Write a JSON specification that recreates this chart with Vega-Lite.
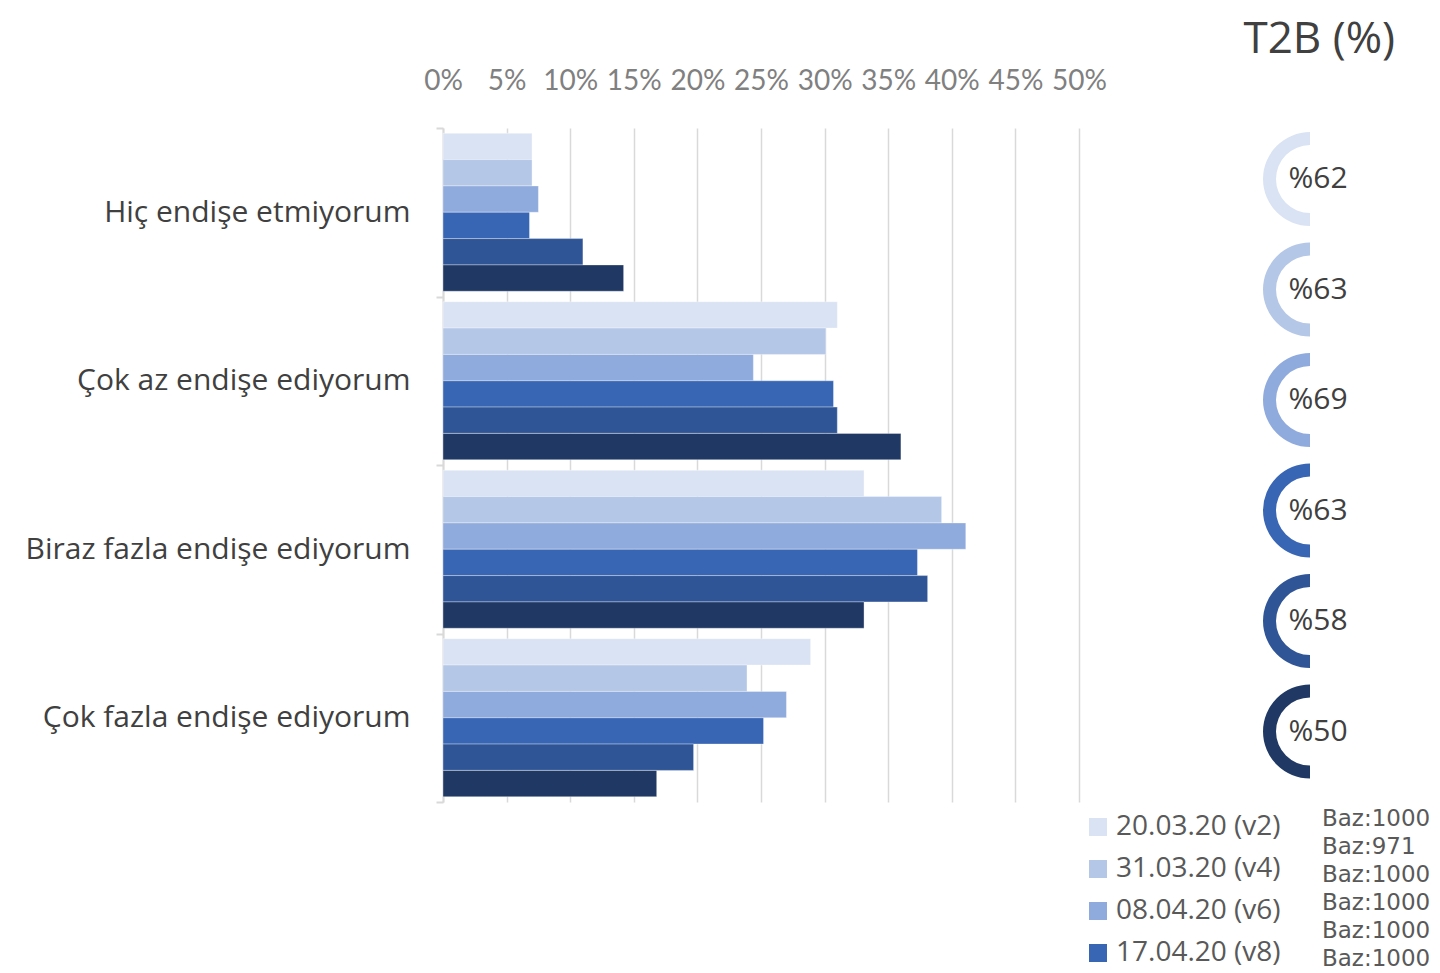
{
  "$schema": "https://vega.github.io/schema/vega-lite/v6.json",
  "width": 636,
  "height": 674,
  "autosize": {"type": "none"},
  "padding": {"left": 443, "top": 128, "right": 361, "bottom": 171},
  "background": "white",
  "config": {"view": {"stroke": null}, "font": "Open Sans"},
  "title": {
    "text": "T2B (%)",
    "anchor": "end",
    "frame": "group",
    "dx": 316,
    "dy": 40,
    "offset": 10,
    "baseline": "alphabetic",
    "fontSize": 44,
    "fontWeight": "normal",
    "color": "#404040",
    "font": "Open Sans"
  },
  "datasets": {
    "shares": [
      {"category": "Hiç endişe etmiyorum", "wave": "20.03.20 (v2)", "share": 0.070},
      {"category": "Hiç endişe etmiyorum", "wave": "31.03.20 (v4)", "share": 0.070},
      {"category": "Hiç endişe etmiyorum", "wave": "08.04.20 (v6)", "share": 0.075},
      {"category": "Hiç endişe etmiyorum", "wave": "17.04.20 (v8)", "share": 0.068},
      {"category": "Hiç endişe etmiyorum", "wave": "v10", "share": 0.110},
      {"category": "Hiç endişe etmiyorum", "wave": "v12", "share": 0.142},
      {"category": "Çok az endişe ediyorum", "wave": "20.03.20 (v2)", "share": 0.310},
      {"category": "Çok az endişe ediyorum", "wave": "31.03.20 (v4)", "share": 0.301},
      {"category": "Çok az endişe ediyorum", "wave": "08.04.20 (v6)", "share": 0.244},
      {"category": "Çok az endişe ediyorum", "wave": "17.04.20 (v8)", "share": 0.307},
      {"category": "Çok az endişe ediyorum", "wave": "v10", "share": 0.310},
      {"category": "Çok az endişe ediyorum", "wave": "v12", "share": 0.360},
      {"category": "Biraz fazla endişe ediyorum", "wave": "20.03.20 (v2)", "share": 0.331},
      {"category": "Biraz fazla endişe ediyorum", "wave": "31.03.20 (v4)", "share": 0.392},
      {"category": "Biraz fazla endişe ediyorum", "wave": "08.04.20 (v6)", "share": 0.411},
      {"category": "Biraz fazla endişe ediyorum", "wave": "17.04.20 (v8)", "share": 0.373},
      {"category": "Biraz fazla endişe ediyorum", "wave": "v10", "share": 0.381},
      {"category": "Biraz fazla endişe ediyorum", "wave": "v12", "share": 0.331},
      {"category": "Çok fazla endişe ediyorum", "wave": "20.03.20 (v2)", "share": 0.289},
      {"category": "Çok fazla endişe ediyorum", "wave": "31.03.20 (v4)", "share": 0.239},
      {"category": "Çok fazla endişe ediyorum", "wave": "08.04.20 (v6)", "share": 0.270},
      {"category": "Çok fazla endişe ediyorum", "wave": "17.04.20 (v8)", "share": 0.252},
      {"category": "Çok fazla endişe ediyorum", "wave": "v10", "share": 0.197},
      {"category": "Çok fazla endişe ediyorum", "wave": "v12", "share": 0.168}
    ],
    "t2b": [
      {"wave": "20.03.20 (v2)", "t2b": 62, "base": 1000},
      {"wave": "31.03.20 (v4)", "t2b": 63, "base": 971},
      {"wave": "08.04.20 (v6)", "t2b": 69, "base": 1000},
      {"wave": "17.04.20 (v8)", "t2b": 63, "base": 1000},
      {"wave": "v10", "t2b": 58, "base": 1000},
      {"wave": "v12", "t2b": 50, "base": 1000}
    ]
  },
  "layer": [
    {
      "data": {"name": "shares"},
      "mark": {"type": "bar", "stroke": "#ffffff", "strokeOpacity": 0.35, "strokeWidth": 1},
      "encoding": {
        "y": {
          "field": "category",
          "type": "nominal",
          "sort": ["Hiç endişe etmiyorum", "Çok az endişe ediyorum", "Biraz fazla endişe ediyorum", "Çok fazla endişe ediyorum"],
          "scale": {"paddingInner": 0, "paddingOuter": 0},
          "title": null,
          "axis": {
            "tickBand": "extent",
            "domainColor": "#d9d9d9",
            "domainWidth": 2,
            "tickColor": "#d9d9d9",
            "tickWidth": 2,
            "tickSize": 7,
            "labelPadding": 26,
            "labelFontSize": 30,
            "labelColor": "#404040",
            "labelFont": "Open Sans",
            "labelLimit": 500,
            "grid": false
          }
        },
        "yOffset": {
          "field": "wave",
          "sort": ["20.03.20 (v2)", "31.03.20 (v4)", "08.04.20 (v6)", "17.04.20 (v8)", "v10", "v12"],
          "scale": {"paddingInner": 0, "paddingOuter": 0.2}
        },
        "x": {
          "field": "share",
          "type": "quantitative",
          "scale": {"domain": [0, 0.5], "nice": false},
          "title": null,
          "axis": {
            "orient": "top",
            "values": [0, 0.05, 0.1, 0.15, 0.2, 0.25, 0.3, 0.35, 0.4, 0.45, 0.5],
            "format": ".0%",
            "domain": false,
            "ticks": false,
            "tickSize": 0,
            "labelPadding": 33,
            "labelFontSize": 28,
            "labelColor": "#808080",
            "labelFont": "Lato",
            "labelOverlap": false,
            "labelBound": false,
            "labelFlush": false,
            "grid": true,
            "gridColor": "#d9d9d9",
            "gridWidth": 1.5
          }
        },
        "color": {
          "field": "wave",
          "type": "nominal",
          "scale": {
            "domain": ["20.03.20 (v2)", "31.03.20 (v4)", "08.04.20 (v6)", "17.04.20 (v8)", "v10", "v12"],
            "range": ["#DAE3F3", "#B4C7E7", "#8FAADC", "#3866B4", "#2F5597", "#203864"]
          },
          "legend": {
            "orient": "none",
            "legendX": 641,
            "legendY": 685,
            "values": ["20.03.20 (v2)", "31.03.20 (v4)", "08.04.20 (v6)", "17.04.20 (v8)"],
            "title": null,
            "symbolType": "square",
            "symbolSize": 324,
            "symbolStrokeWidth": 0,
            "labelFontSize": 28,
            "labelColor": "#595959",
            "labelFont": "Open Sans",
            "labelOffset": 4,
            "labelLimit": 300,
            "rowPadding": 14
          }
        }
      }
    },
    {
      "data": {"name": "t2b"},
      "transform": [{"calculate": "'%' + datum.t2b", "as": "label"}],
      "encoding": {
        "y": {
          "field": "wave",
          "type": "nominal",
          "sort": ["20.03.20 (v2)", "31.03.20 (v4)", "08.04.20 (v6)", "17.04.20 (v8)", "v10", "v12"],
          "scale": {"type": "point", "padding": 0.55, "align": 0.42},
          "axis": null
        },
        "x": {"datum": 0.6816, "type": "quantitative", "scale": {"domain": [0, 0.5], "nice": false}}
      },
      "layer": [
        {
          "mark": {"type": "arc", "theta": 3.14159265, "theta2": 6.2831853, "innerRadius": 34, "outerRadius": 47},
          "encoding": {
            "color": {"field": "wave", "type": "nominal"}
          }
        },
        {
          "mark": {"type": "text", "dx": 8, "fontSize": 30, "color": "#404040", "font": "Open Sans", "align": "center", "baseline": "middle"},
          "encoding": {"text": {"field": "label"}}
        }
      ]
    },
    {
      "data": {"name": "t2b"},
      "transform": [{"calculate": "'Baz:' + datum.base", "as": "baz"}],
      "mark": {"type": "text", "fontSize": 23, "color": "#595959", "font": "DejaVu Sans", "align": "left", "baseline": "middle"},
      "encoding": {
        "y": {
          "field": "wave",
          "type": "nominal",
          "sort": ["20.03.20 (v2)", "31.03.20 (v4)", "08.04.20 (v6)", "17.04.20 (v8)", "v10", "v12"],
          "scale": {"type": "point", "padding": 0, "range": [691, 831]},
          "axis": null
        },
        "x": {"datum": 0.691, "type": "quantitative", "scale": {"domain": [0, 0.5], "nice": false}},
        "text": {"field": "baz"}
      }
    }
  ],
  "resolve": {"scale": {"y": "independent"}}
}
